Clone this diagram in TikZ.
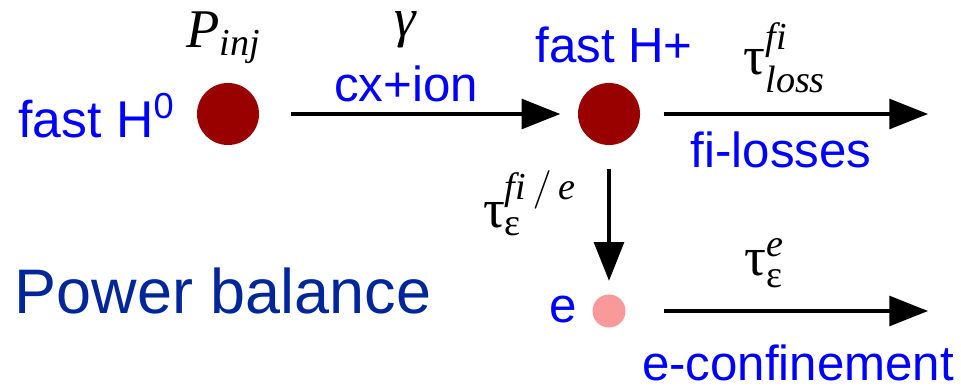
\documentclass[tikz,border=0pt]{standalone}
\usepackage{amsmath}
\usepackage{fontspec}
\setmainfont{Liberation Sans}
\newfontfamily\serf{Liberation Serif}
\usetikzlibrary{arrows.meta,positioning}
\definecolor{hblue}{RGB}{0,0,255}
\definecolor{pblue}{RGB}{0,38,153}
\definecolor{mdred}{RGB}{153,0,0}
\definecolor{mpink}{RGB}{250,153,153}
\newcommand{\sit}[1]{\text{\serf\itshape #1}}
\newcommand{\gtau}{\text{\serf τ}}
\newcommand{\geps}{\text{\serf ε}}

\begin{document}
\begin{tikzpicture}[x=0.01cm, y=-0.01cm,
    dot/.style={circle, fill=mdred, inner sep=0pt, minimum size=0.62cm},
    lbl/.style={text=hblue, font=\fontsize{14}{16}\selectfont, anchor=base, inner sep=0pt},
    sym/.style={font=\fontsize{15.5}{18}\selectfont, anchor=base, inner sep=0pt},
    arr/.style={-{Triangle[length=11pt, width=8.5pt]}, line width=0.9pt},
  ]
    \useasboundingbox (0,0) rectangle (961,388);
    \node[dot] (h0) at (228,114) {};
    \node[dot] (hp) at (609,114) {};
    \node[dot, fill=mpink, minimum size=0.33cm] (el) at (609,311) {};
    \coordinate (fiend) at (928,114);
    \coordinate (eend) at (928,311);
    \draw[arr, shorten <=0.31cm, shorten >=0.17cm] (h0) -- (hp);
    \draw[arr, shorten <=0.23cm] (hp) -- (fiend);
    \draw[arr, shorten <=0.23cm, shorten >=0.13cm] (hp) -- (el);
    \draw[arr, shorten <=0.38cm] (el) -- (eend);
    \node[lbl, font=\fontsize{14.7}{17}\selectfont] (h0lbl) at (97,137) {fast H\textsuperscript{0}};
    \node[sym] (pinj) at (224,48) {$\sit{P}_{\sit{inj}}$};
    \node[sym] (gam) at (405,37) {$\sit{γ}$};
    \node[lbl] (cxion) at (406,102) {cx+ion};
    \node[lbl] (hplbl) at (614,63) {fast H+};
    \node[sym] (tloss) at (785,75) {$\gtau^{\sit{fi}}_{\sit{loss}}$};
    \node[lbl] (filoss) at (781,168) {fi-losses};
    \node[sym] (tfie) at (530,227) {$\gtau^{\sit{fi}\,/\,\sit{e}}_{\geps}$};
    \node[lbl] (elbl) at (563,322) {e};
    \node[sym] (te) at (765,275) {$\gtau^{\sit{e}}_{\geps}$};
    \node[lbl] (econf) at (798,380) {e-confinement};
    \node[lbl, text=pblue, font=\fontsize{17.9}{21}\selectfont] (pbal) at (223,313) {Power balance};
  \end{tikzpicture}
\end{document}
